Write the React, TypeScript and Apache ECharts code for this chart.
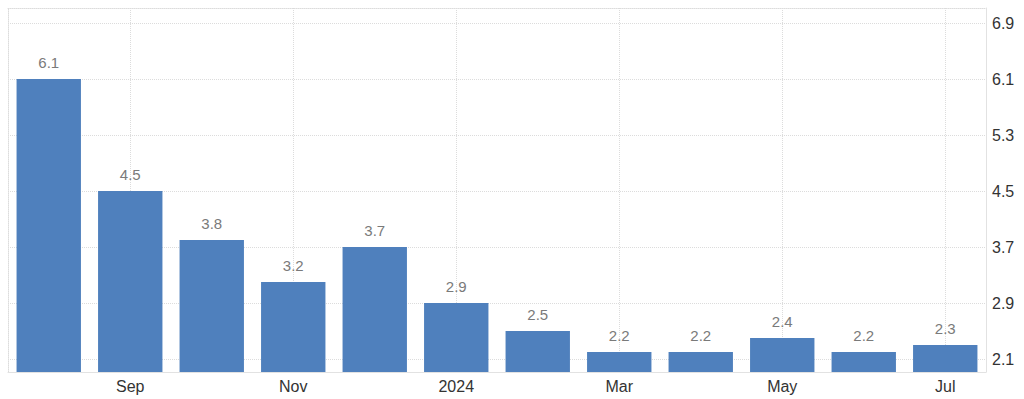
import React, { useEffect, useRef } from "react";
import * as echarts from "echarts";

const categories = ["Aug", "Sep", "Oct", "Nov", "Dec", "2024", "Feb", "Mar", "Apr", "May", "Jun", "Jul"];
const values = [6.1, 4.5, 3.8, 3.2, 3.7, 2.9, 2.5, 2.2, 2.2, 2.4, 2.2, 2.3];
const tickMin = 2.1;
const tickMax = 6.9;
const tickStep = 0.8;
const axisMin = 1.914;
const axisMax = 7.114;

const FONT = "'Liberation Sans', Arial, sans-serif";
const GRID_COLOR = "#dcdcdc";
const BORDER_COLOR = "#e2e2e2";

export default function App() {
  const ref = useRef<HTMLDivElement>(null);
  useEffect(() => {
    if (!ref.current) return;
    const chart = echarts.init(ref.current, null, { renderer: "svg" });
    const everyOther = (i: number) => i % 2 === 1;
    chart.setOption({
      animation: false,
      backgroundColor: "#ffffff",
      grid: [
        { left: 8, right: 38, top: 8, bottom: 27 },
        { left: 8, right: 38, top: 23, bottom: 40 },
      ],
      xAxis: [
        {
          type: "category",
          gridIndex: 0,
          data: categories,
          position: "bottom",
          axisLine: { show: true, lineStyle: { color: BORDER_COLOR, width: 1 } },
          axisTick: { show: false },
          axisLabel: {
            interval: everyOther,
            color: "#333333",
            fontSize: 16,
            fontFamily: FONT,
            margin: 6,
          },
          splitLine: {
            show: true,
            interval: everyOther,
            alignWithLabel: true,
            lineStyle: { color: GRID_COLOR, type: "dotted", width: 1 },
          },
        },
        {
          type: "category",
          gridIndex: 0,
          data: categories,
          position: "top",
          axisLine: { show: true, lineStyle: { color: GRID_COLOR, type: "dotted", width: 1 } },
          axisTick: { show: false },
          axisLabel: { show: false },
          splitLine: { show: false },
        },
        {
          type: "category",
          gridIndex: 1,
          data: categories,
          show: false,
        },
      ],
      yAxis: [
        {
          type: "value",
          gridIndex: 0,
          position: "right",
          min: axisMin,
          max: axisMax,
          axisLine: { show: true, lineStyle: { color: BORDER_COLOR, width: 1 } },
          axisTick: { show: false },
          axisLabel: { show: false },
          splitLine: { show: false },
        },
        {
          type: "value",
          gridIndex: 0,
          position: "left",
          min: axisMin,
          max: axisMax,
          axisLine: { show: true, lineStyle: { color: GRID_COLOR, type: "dotted", width: 1 } },
          axisTick: { show: false },
          axisLabel: { show: false },
          splitLine: { show: false },
        },
        {
          type: "value",
          gridIndex: 1,
          position: "right",
          min: tickMin,
          max: tickMax,
          interval: tickStep,
          axisLine: { show: false },
          axisTick: { show: false },
          axisLabel: {
            color: "#333333",
            fontSize: 16,
            fontFamily: FONT,
            margin: 6,
            formatter: (v: number) => v.toFixed(1),
          },
          splitLine: {
            show: true,
            lineStyle: { color: GRID_COLOR, type: "dotted", width: 1 },
          },
        },
      ],
      series: [
        {
          type: "bar",
          xAxisIndex: 0,
          yAxisIndex: 0,
          data: values,
          barCategoryGap: "21%",
          itemStyle: { color: "#4f80bd" },
          label: {
            show: true,
            position: "top",
            distance: 9,
            color: "#7a7a7a",
            fontSize: 15,
            fontFamily: FONT,
            formatter: (p: any) => Number(p.value).toFixed(1),
          },
        },
      ],
    });
    return () => chart.dispose();
  }, []);
  return (
    <div
      ref={ref}
      style={{ position: "fixed", left: 0, top: 0, width: 1024, height: 399 }}
    />
  );
}
